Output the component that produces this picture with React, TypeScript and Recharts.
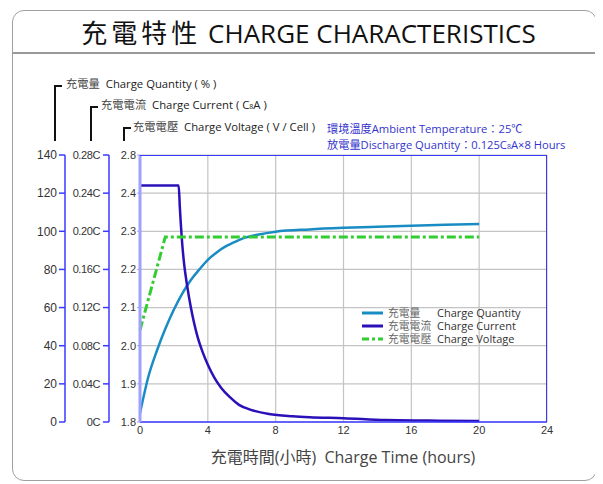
import React from "react";
import { LineChart, Line, XAxis, YAxis, CartesianGrid } from "recharts";

// ---- data ----
const hourTicks = [0, 4, 8, 12, 16, 20, 24];
const percentTicks = [0, 20, 40, 60, 80, 100, 120, 140];
const currentTicks = [0, 0.04, 0.08, 0.12, 0.16, 0.2, 0.24, 0.28];
const voltageTicks = [1.8, 1.9, 2.0, 2.1, 2.2, 2.3, 2.4, 2.5];
const voltageTickLabels = ["1.8", "1.9", "2.0", "2.1", "2.2", "2.3", "2.4", "2.8"];

const chargeQuantity = [
  { t: 0, v: 4.6 }, { t: 0.5, v: 24 }, { t: 1, v: 37.5 }, { t: 1.5, v: 49 },
  { t: 2, v: 59 }, { t: 2.5, v: 67.5 }, { t: 3, v: 74.5 }, { t: 3.5, v: 80 },
  { t: 4, v: 85 }, { t: 4.5, v: 88.8 }, { t: 5, v: 91.8 }, { t: 5.5, v: 94 },
  { t: 6, v: 96 }, { t: 7, v: 98.3 }, { t: 8, v: 99.8 }, { t: 10, v: 101 },
  { t: 12, v: 101.8 }, { t: 14, v: 102.4 }, { t: 16, v: 102.9 }, { t: 18, v: 103.4 },
  { t: 20, v: 103.8 },
];

const chargeCurrent = [
  { t: 0, v: 0.248 }, { t: 2.28, v: 0.248 }, { t: 2.35, v: 0.225 }, { t: 2.48, v: 0.189 },
  { t: 2.6, v: 0.166 }, { t: 2.77, v: 0.144 }, { t: 3.0, v: 0.12 }, { t: 3.2, v: 0.103 },
  { t: 3.4, v: 0.089 }, { t: 3.7, v: 0.073 }, { t: 4.0, v: 0.06 }, { t: 4.4, v: 0.046 },
  { t: 4.78, v: 0.036 }, { t: 5.3, v: 0.026 }, { t: 5.84, v: 0.018 }, { t: 6.5, v: 0.013 },
  { t: 7.6, v: 0.0084 }, { t: 9, v: 0.006 }, { t: 10, v: 0.005 }, { t: 12, v: 0.004 },
  { t: 14.5, v: 0.002 }, { t: 17, v: 0.0015 }, { t: 20, v: 0.001 },
];

const chargeVoltage = [
  { t: 0, v: 2.041 }, { t: 1.49, v: 2.285 }, { t: 20, v: 2.285 },
];

const COL_Q = "#1a8cc4";
const COL_I = "#2a10b8";
const COL_V = "#33cc33";
const AXIS_BLUE = "#3a3aff";
const FONT = "'Open Sans', 'Noto Sans CJK TC', sans-serif";
const TICK_FONT = "'Liberation Sans', Arial, sans-serif";

const tickStyle = { fontSize: 11, fill: "#333", fontFamily: TICK_FONT };

// axis ids (stacked outward from the plot in id order)
const V_AXIS = "a_voltage";
const I_AXIS = "b_current";
const P_AXIS = "c_percent";

export default function App() {
  return (
    <div style={{ position: "relative", width: 589, height: 476, fontFamily: FONT }}>
      {/* frame */}
      <div style={{ position: "absolute", left: 4, top: 2, width: 583, height: 469, border: "1.5px solid #a0a0a0", borderRadius: 12 }} />
      <div style={{ position: "absolute", left: 4, top: 44, width: 585, height: 0, borderTop: "2px solid #999" }} />
      <div style={{ position: "absolute", left: 0, top: 7, width: 601, textAlign: "center", fontSize: 26, color: "#111", lineHeight: "36px", whiteSpace: "nowrap" }}>
        <span style={{ letterSpacing: 4 }}>充電特性</span> CHARGE CHARACTERISTICS
      </div>

      <LineChart width={589} height={476} margin={{ top: 147, left: 12, right: 50, bottom: 32 }} style={{ position: "absolute", left: 0, top: 0 }}>
        <CartesianGrid yAxisId={V_AXIS} stroke="#c4c4c4" strokeWidth={1.2} />
        <XAxis
          dataKey="t"
          type="number"
          domain={[0, 24]}
          ticks={hourTicks}
          allowDuplicatedCategory={false}
          axisLine={{ stroke: AXIS_BLUE, strokeWidth: 1.5 }}
          tickLine={false}
          tickSize={2}
          tick={tickStyle}
          height={30}
        />
        <YAxis
          yAxisId={V_AXIS}
          orientation="left"
          type="number"
          domain={[1.8, 2.5]}
          ticks={voltageTicks}
          tickFormatter={(_v: number, i: number) => voltageTickLabels[i]}
          width={31}
          axisLine={{ stroke: "#a0a0ff", strokeWidth: 3 }}
          tickLine={{ stroke: "#a0a0ff" }}
          tickSize={3}
          tickMargin={1}
          tick={tickStyle}
        />
        <YAxis
          yAxisId={I_AXIS}
          orientation="left"
          type="number"
          domain={[0, 0.28]}
          ticks={currentTicks}
          tickFormatter={(v: number) => (v === 0 ? "0C" : v.toFixed(2) + "C")}
          width={44}
          axisLine={{ stroke: AXIS_BLUE, strokeWidth: 1.5 }}
          tickLine={{ stroke: AXIS_BLUE, strokeWidth: 1.5 }}
          tickSize={6}
          tickMargin={3}
          tick={{ ...tickStyle, letterSpacing: -0.4 }}
        />
        <YAxis
          yAxisId={P_AXIS}
          orientation="left"
          type="number"
          domain={[0, 140]}
          ticks={percentTicks}
          width={45}
          axisLine={{ stroke: AXIS_BLUE, strokeWidth: 1.5 }}
          tickLine={{ stroke: AXIS_BLUE, strokeWidth: 1.5 }}
          tickSize={6}
          tickMargin={2}
          tick={{ ...tickStyle, fontSize: 12 }}
        />
        <Line yAxisId={P_AXIS} data={chargeQuantity} dataKey="v" type="monotone" stroke={COL_Q} strokeWidth={2.5} dot={false} isAnimationActive={false} />
        <Line yAxisId={I_AXIS} data={chargeCurrent} dataKey="v" type="monotone" stroke={COL_I} strokeWidth={2.5} dot={false} isAnimationActive={false} />
        <Line yAxisId={V_AXIS} data={chargeVoltage} dataKey="v" type="linear" stroke={COL_V} strokeWidth={3} strokeDasharray="9 3 3 3" dot={false} isAnimationActive={false} />
      </LineChart>

      {/* plot border */}
      <div style={{ position: "absolute", left: 132, top: 147, width: 406, height: 266, borderTop: `1.5px solid ${AXIS_BLUE}`, borderRight: `1.5px solid ${AXIS_BLUE}`, pointerEvents: "none" }} />

      {/* axis title brackets */}
      <div style={{ position: "absolute", left: 46, top: 77, width: 6, height: 54, borderLeft: "2px solid #111", borderTop: "2px solid #111" }} />
      <div style={{ position: "absolute", left: 82, top: 98, width: 6, height: 33, borderLeft: "2px solid #111", borderTop: "2px solid #111" }} />
      <div style={{ position: "absolute", left: 115, top: 119, width: 6, height: 12, borderLeft: "2px solid #111", borderTop: "2px solid #111" }} />
      <div style={{ position: "absolute", left: 58, top: 68, fontSize: 11.3, color: "#222", whiteSpace: "nowrap", lineHeight: "16px" }}>
        <span style={{ color: "#444" }}>充電量</span>&nbsp; Charge Quantity ( % )
      </div>
      <div style={{ position: "absolute", left: 93, top: 89, fontSize: 11.3, color: "#222", whiteSpace: "nowrap", lineHeight: "16px" }}>
        <span style={{ color: "#444" }}>充電電流</span>&nbsp; Charge Current ( C<span style={{ fontSize: 7 }}>8</span>A )
      </div>
      <div style={{ position: "absolute", left: 125, top: 111, fontSize: 11.3, color: "#222", whiteSpace: "nowrap", lineHeight: "16px" }}>
        <span style={{ color: "#444" }}>充電電壓</span>&nbsp; Charge Voltage ( V / Cell )
      </div>

      {/* conditions */}
      <div style={{ position: "absolute", left: 319, top: 113, fontSize: 11.2, color: "#3333cc", whiteSpace: "nowrap", lineHeight: "16px" }}>
        環境溫度Ambient Temperature：25℃
      </div>
      <div style={{ position: "absolute", left: 319, top: 129, fontSize: 11.2, color: "#3333cc", whiteSpace: "nowrap", lineHeight: "16px" }}>
        放電量Discharge Quantity：0.125C<span style={{ fontSize: 7 }}>8</span>A×8 Hours
      </div>

      {/* legend */}
      {[
        { y: 304.5, zh: "充電量", en: "Charge Quantity", c: COL_Q, dash: false },
        { y: 317.5, zh: "充電電流", en: "Charge Current", c: COL_I, dash: false },
        { y: 331, zh: "充電電壓", en: "Charge Voltage", c: COL_V, dash: true },
      ].map((r) => (
        <React.Fragment key={r.en}>
          <svg style={{ position: "absolute", left: 354, top: r.y - 3 }} width={21} height={6}>
            <line x1={0} y1={3} x2={21} y2={3} stroke={r.c} strokeWidth={3} strokeDasharray={r.dash ? "7 3 3 3" : undefined} />
          </svg>
          <div style={{ position: "absolute", left: 380, top: r.y - 6, fontSize: 10.8, color: "#666", lineHeight: "12px", whiteSpace: "nowrap" }}>{r.zh}</div>
          <div style={{ position: "absolute", left: 429, top: r.y - 6, fontSize: 11, color: "#333", lineHeight: "12px", whiteSpace: "nowrap" }}>{r.en}</div>
        </React.Fragment>
      ))}

      {/* x axis title */}
      <div style={{ position: "absolute", left: 195, top: 438, width: 280, textAlign: "center", fontSize: 16, color: "#444", whiteSpace: "nowrap", lineHeight: "22px" }}>
        充電時間(小時)&nbsp; Charge Time (hours)
      </div>
    </div>
  );
}
